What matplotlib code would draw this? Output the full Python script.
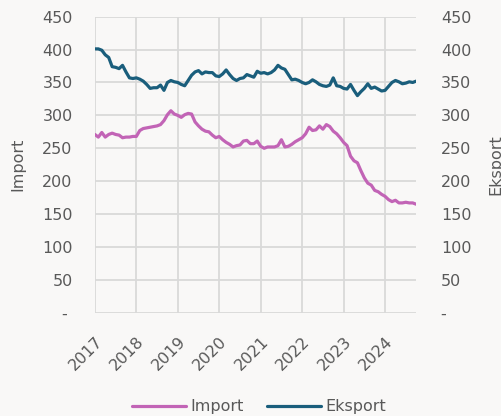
import numpy as np
import matplotlib.pyplot as plt

# monthly values, Jan 2017 - Oct 2024
import_vals = [271, 267, 274, 267, 271, 273, 271, 270, 266, 267, 267, 268,
               268, 277, 280, 281, 282, 283, 284, 286, 292, 301, 307, 302,
               300, 297, 301, 303, 302, 290, 284, 279, 276, 275, 270, 266,
               268, 263, 259, 256, 252, 254, 255, 261, 262, 257, 257, 261,
               253, 250, 252, 252, 252, 254, 263, 252, 253, 256, 260, 263,
               266, 272, 282, 277, 278, 284, 279, 286, 283, 276, 272, 266,
               259, 254, 238, 231, 228, 216, 205, 197, 194, 186, 184, 180,
               177, 172, 169, 171, 167, 167, 168, 167, 167, 165]
eksport_vals = [401, 401, 399, 392, 388, 374, 373, 371, 376, 366, 357, 356,
                357, 355, 352, 347, 341, 342, 342, 346, 338, 350, 353, 351,
                350, 347, 345, 353, 361, 366, 368, 363, 366, 365, 365, 360,
                359, 363, 369, 362, 356, 353, 356, 357, 362, 360, 358, 367,
                364, 365, 363, 365, 369, 376, 372, 370, 362, 354, 355, 353,
                350, 348, 350, 354, 351, 347, 345, 344, 346, 357, 345, 344,
                341, 340, 347, 338, 330, 336, 341, 348, 341, 343, 340, 337,
                338, 344, 350, 353, 351, 348, 349, 351, 350, 352]
years = [2017, 2018, 2019, 2020, 2021, 2022, 2023, 2024]
yticks = [0, 50, 100, 150, 200, 250, 300, 350, 400, 450]
ylabels = ['- ' if v == 0 else str(v) for v in yticks]

x = 2017 + np.arange(len(import_vals)) / 12

bg = '#f9f8f7'
txt = '#595959'
grid_c = '#d9d9d9'

fig = plt.figure(figsize=(5.02, 4.16), dpi=100, facecolor=bg)
ax = fig.add_axes([0.189, 0.248, 0.64, 0.712], facecolor=bg)
ax2 = ax.twinx()

l1, = ax.plot(x, import_vals, color='#c264b6', lw=2.3, label='Import', solid_capstyle='round')
l2, = ax.plot(x, eksport_vals, color='#1a5e7c', lw=2.3, label='Eksport', solid_capstyle='round')

for a in (ax, ax2):
    a.set_ylim(0, 450)
    a.set_yticks(yticks)
    a.set_yticklabels(ylabels)
    for s in a.spines.values():
        s.set_visible(False)
    a.tick_params(length=0, labelsize=11.5, labelcolor=txt)

ax.tick_params(axis='y', pad=16)
ax2.tick_params(axis='y', pad=18)
ax.set_xlim(2017, x[-1])
ax.set_xticks(years)
ax.set_xticklabels([str(y) for y in years], rotation=45, ha='right', va='top',
                   rotation_mode='anchor')
ax.tick_params(axis='x', pad=15)
ax.grid(True, color=grid_c, lw=1.3)
ax.set_axisbelow(True)

ax.set_ylabel('Import', fontsize=11.5, color=txt, labelpad=12)
ax2.set_ylabel('Eksport', fontsize=11.5, color=txt, labelpad=12)

fig.legend(handles=[l1, l2], loc='lower center', bbox_to_anchor=(0.516, -0.03),
           ncol=2, frameon=False, fontsize=11.5, labelcolor=txt,
           handlelength=3.4, handletextpad=0.3, columnspacing=1.4)

fig.savefig('out.png', dpi=100, facecolor=bg)
